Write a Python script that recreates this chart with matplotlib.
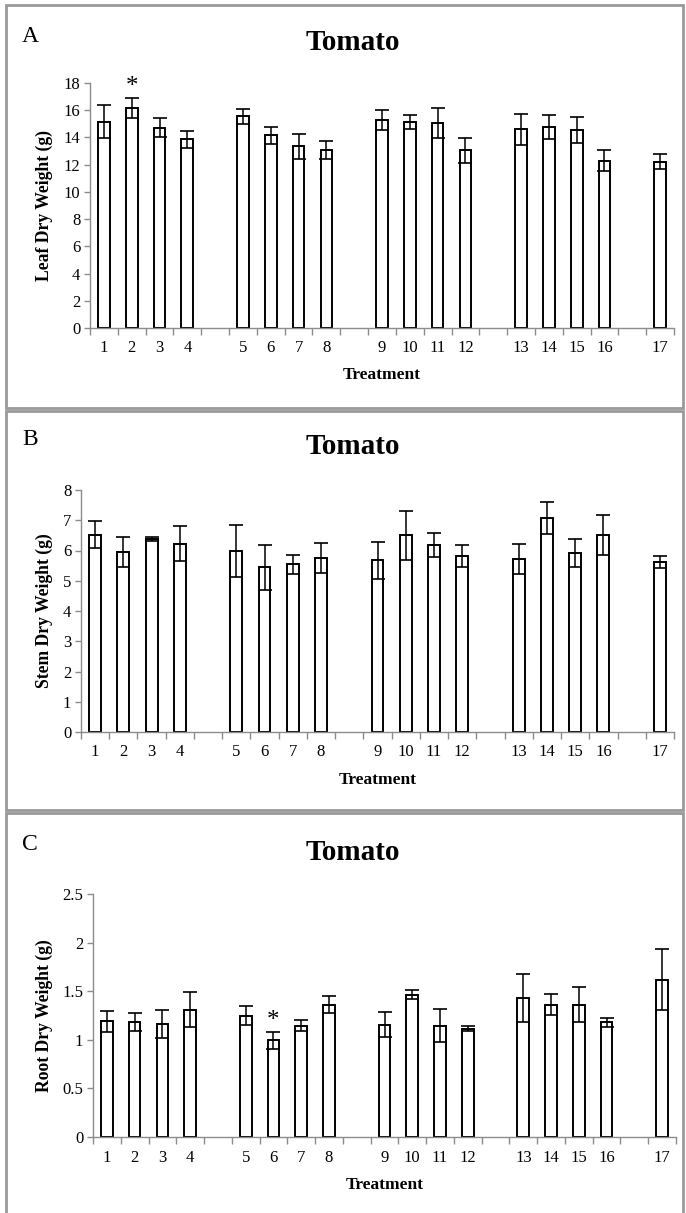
import numpy as np
import matplotlib.pyplot as plt
from matplotlib.patches import Rectangle

plt.rcParams['font.family'] = ['Liberation Serif', 'DejaVu Serif']

# treatments, shown in groups of four with a blank slot between groups
groups = [[1, 2, 3, 4], [5, 6, 7, 8], [9, 10, 11, 12], [13, 14, 15, 16], [17]]

leaf_mean = [15.15, 16.15, 14.7, 13.85, 15.55, 14.15, 13.35, 13.1, 15.3,
             15.15, 15.05, 13.05, 14.6, 14.75, 14.55, 12.3, 12.2]
leaf_err = [1.2, 0.75, 0.7, 0.65, 0.55, 0.65, 0.9, 0.65, 0.75,
            0.5, 1.1, 0.9, 1.15, 0.9, 0.95, 0.75, 0.55]

stem_mean = [6.52, 5.96, 6.38, 6.23, 5.98, 5.45, 5.54, 5.75, 5.67,
             6.5, 6.17, 5.82, 5.73, 7.08, 5.93, 6.52, 5.62]
stem_err = [0.45, 0.5, 0.08, 0.57, 0.87, 0.74, 0.32, 0.5, 0.6,
            0.8, 0.4, 0.37, 0.5, 0.52, 0.46, 0.67, 0.2]

root_mean = [1.19, 1.185, 1.165, 1.31, 1.25, 0.993, 1.147, 1.363, 1.155,
             1.466, 1.147, 1.113, 1.43, 1.363, 1.363, 1.18, 1.62]
root_err = [0.105, 0.095, 0.145, 0.18, 0.1, 0.085, 0.06, 0.085, 0.13,
            0.05, 0.17, 0.025, 0.25, 0.11, 0.18, 0.045, 0.31]

W, H = 686, 1213

# slot index for each treatment
positions = []
slot = 0
for g in groups:
    for t in g:
        positions.append(slot)
        slot += 1
    slot += 1
n_slots = slot - 1
labels = [str(t) for g in groups for t in g]


def panel(rect_px, means, errs, yticks, ytick_labels, ylabel, letter, letter_y,
          title_y, xlab_y, treat_y, star=None):
    l, r, t, b = rect_px
    ax = fig.add_axes([l / W, 1 - b / H, (r - l) / W, (b - t) / H])
    ax.bar(positions, means, width=0.42, color='white', edgecolor='black',
           linewidth=1.4, zorder=2)
    ax.errorbar(positions, means, yerr=errs, fmt='none', ecolor='black',
                elinewidth=1.1, capsize=5, capthick=1.2, zorder=3)
    ax.set_xlim(-0.5, n_slots - 0.5)
    ax.set_ylim(yticks[0], yticks[-1])
    ax.set_yticks(yticks)
    ax.set_yticklabels(ytick_labels, fontsize=12)
    ax.set_xticks(np.arange(-0.5, n_slots, 1.0))
    ax.set_xticklabels([])
    ax.set_xticks(positions, minor=True)
    ax.set_xticklabels(labels, minor=True, fontsize=12)
    ax.tick_params(axis='x', which='major', direction='out', length=5,
                   color='#8c8c8c', width=1)
    ax.tick_params(axis='x', which='minor', length=0, pad=9)
    ax.tick_params(axis='y', direction='out', length=4, color='#8c8c8c',
                   width=1, pad=3)
    for s in ['top', 'right']:
        ax.spines[s].set_visible(False)
    for s in ['left', 'bottom']:
        ax.spines[s].set_color('#8c8c8c')
        ax.spines[s].set_linewidth(1)
    if star is not None:
        i = star
        ax.text(positions[i], means[i] + errs[i], '*', ha='center', va='bottom',
                fontsize=18, zorder=4)
    fig.text(44 / W, 1 - ((t + b) / 2) / H, ylabel, rotation=90, ha='center',
             va='center', fontsize=12.7, fontweight='bold')
    fig.text(22 / W, 1 - letter_y / H, letter, ha='left', va='center',
             fontsize=17)
    fig.text(353 / W, 1 - title_y / H, 'Tomato', ha='center', va='center',
             fontsize=21, fontweight='bold')
    fig.text(((l + r) / 2) / W, 1 - treat_y / H, 'Treatment', ha='center',
             va='center', fontsize=12.5, fontweight='bold')
    return ax


fig = plt.figure(figsize=(W / 100, H / 100), dpi=100)

# gray panel frames
for y0, y1 in [(5, 408), (411, 810), (813, 1225)]:
    fig.patches.append(Rectangle((6 / W, 1 - y1 / H), 677 / W, (y1 - y0) / H,
                                 transform=fig.transFigure, fill=False,
                                 edgecolor='#999999', linewidth=2))

panel((90, 674, 83, 328), leaf_mean, leaf_err, np.arange(0, 19, 2),
      [str(v) for v in range(0, 19, 2)], 'Leaf Dry Weight (g)', 'A', 37,
      42, 349, 375, star=1)
panel((81, 674, 490, 732), stem_mean, stem_err, np.arange(0, 9, 1),
      [str(v) for v in range(0, 9)], 'Stem Dry Weight (g)', 'B', 440,
      447, 753, 780)
panel((93, 676, 894, 1137), root_mean, root_err, [0, 0.5, 1, 1.5, 2, 2.5],
      ['0', '0.5', '1', '1.5', '2', '2.5'], 'Root Dry Weight (g)', 'C', 845,
      853, 1158, 1185, star=5)

fig.savefig('out.png', dpi=100)
